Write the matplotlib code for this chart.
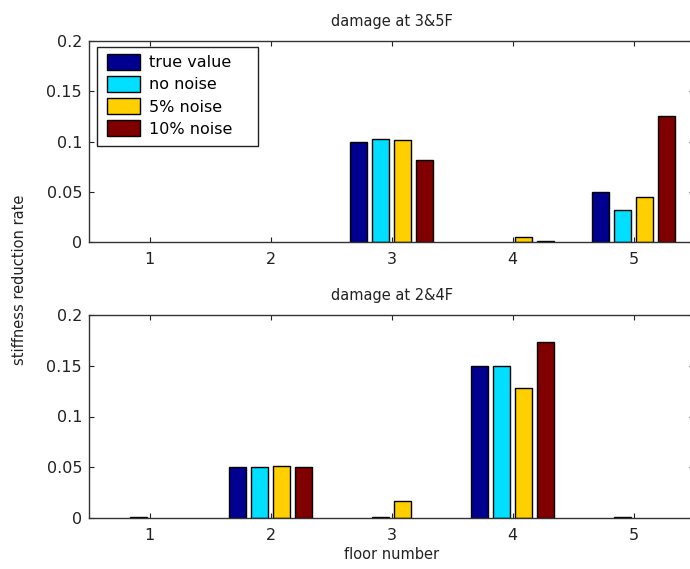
import numpy as np
import matplotlib
matplotlib.use('Agg')
import matplotlib.pyplot as plt
from matplotlib.patches import Rectangle

plt.rcParams['font.family'] = ['DejaVu Sans']

# floors and series
floors = [1, 2, 3, 4, 5]
series_names = ['true value', 'no noise', '5% noise', '10% noise']
colors = ['#000090', '#00DFFF', '#FFCF00', '#800000']

# damage at 3&5F
top_true = [0, 0, 0.100, 0, 0.050]
top_nonoise = [0, 0, 0.1025, 0, 0.032]
top_5pct = [0, 0, 0.1015, 0.0053, 0.0444]
top_10pct = [0, 0, 0.082, 0.0013, 0.125]

# damage at 2&4F
bot_true = [0, 0.050, 0, 0.150, 0]
bot_nonoise = [0.001, 0.050, 0.001, 0.150, 0.001]
bot_5pct = [0, 0.0515, 0.0167, 0.128, 0]
bot_10pct = [0, 0.050, 0, 0.173, 0]

W, H = 690, 569
fig = plt.figure(figsize=(W / 100, H / 100), dpi=100)
ax1 = fig.add_axes([89 / W, 1 - 242 / H, (694 - 89) / W, (242 - 41) / H])
ax2 = fig.add_axes([89 / W, 1 - 518 / H, (694 - 89) / W, (518 - 315) / H])

x = np.array(floors)
ngroups = 4
groupwidth = min(0.8, ngroups / (ngroups + 1.5))
step = groupwidth / ngroups
barw = step * 0.8


def draw(ax, data, title):
    for i, vals in enumerate(data):
        off = (i - (ngroups - 1) / 2) * step
        lw = [1 if v > 0 else 0 for v in vals]
        ax.bar(x + off, vals, width=barw, color=colors[i], edgecolor='black',
               linewidth=lw, label=series_names[i])
    ax.set_xlim(0.5, 5.5)
    ax.set_ylim(0, 0.2)
    ax.set_xticks(floors)
    ax.set_yticks([0, 0.05, 0.1, 0.15, 0.2])
    ax.set_yticklabels(['0', '0.05', '0.1', '0.15', '0.2'])
    ax.tick_params(direction='in', top=True, right=True, length=3.6,
                   width=0.8, labelsize=11.5, colors='#222222')
    ax.tick_params(axis='x', pad=7)
    ax.tick_params(axis='y', pad=5)
    for sp in ax.spines.values():
        sp.set_linewidth(1.0)
        sp.set_color('#333333')
    ax.set_title(title, fontsize=10.5, pad=11, color='#222222')


draw(ax1, [top_true, top_nonoise, top_5pct, top_10pct], 'damage at 3&5F')
draw(ax2, [bot_true, bot_nonoise, bot_5pct, bot_10pct], 'damage at 2&4F')

# legend box like matlab's (extra room on the right)
ax1.add_patch(Rectangle((97 / W, 1 - 146 / H), (258 - 97) / W, (146 - 47) / H,
                        transform=fig.transFigure, facecolor='white',
                        edgecolor='#222222', linewidth=1.0, zorder=4.5))
leg = ax1.legend(loc='upper left', bbox_to_anchor=(107 / W, 1 - 54 / H),
                 bbox_transform=fig.transFigure, fontsize=11.5, frameon=False,
                 handlelength=2.06, handleheight=1.15, handletextpad=0.6,
                 borderpad=0, labelspacing=0.36, borderaxespad=0)
for h in leg.legend_handles:
    h.set_linewidth(1)

ax2.set_xlabel('floor number', fontsize=10.5, labelpad=3, color='#222222')
fig.text(20 / W, 1 - 280 / H, 'stiffness reduction rate', rotation=90,
         ha='center', va='center', fontsize=10.5, color='#222222')

fig.savefig('out.png', dpi=100, facecolor='white')
